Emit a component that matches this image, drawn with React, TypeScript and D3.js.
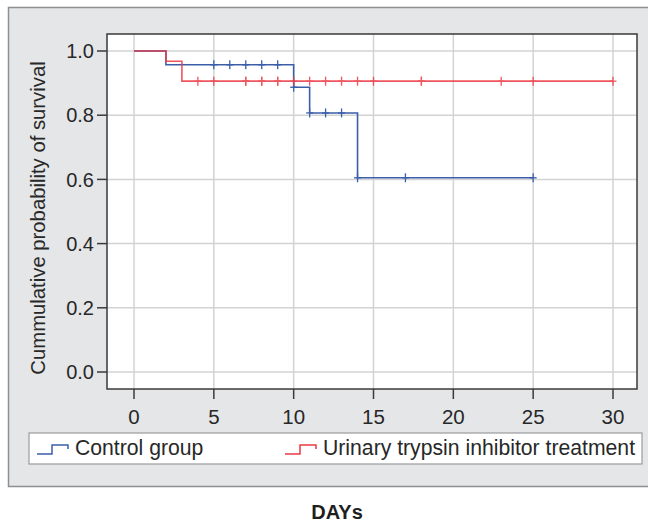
import React from "react";
import * as d3 from "d3";

// Kaplan-Meier steps: [day, survival]
const controlSteps: [number, number][] = [[0, 1], [2, 0.957], [10, 0.887], [11, 0.807], [14, 0.605], [25, 0.605]];
const utiSteps: [number, number][] = [[0, 1], [2, 0.968], [3, 0.906], [30, 0.906]];
// censored observations (days)
const controlCensored = [5, 6, 7, 8, 9, 10, 11, 12, 13, 14, 17, 25];
const utiCensored = [4, 5, 7, 7, 8, 8, 9, 9, 10, 11, 12, 13, 14, 15, 18, 18, 23, 25, 30];
const xTicks = [0, 5, 10, 15, 20, 25, 30];
const yTicks = [0, 0.2, 0.4, 0.6, 0.8, 1.0];
const groups = ["Control group", "Urinary trypsin inhibitor treatment"];

const BLUE = "#3b5ea9";
const RED = "#ec3a44";
const FONT = "Liberation Sans, Arial, sans-serif";
const INK = "#282828";

function survivalAt(steps: [number, number][], t: number) {
  let s = steps[0][1];
  for (const p of steps) if (p[0] <= t) s = p[1];
  return s;
}

export default function App() {
  const plot = { left: 107, right: 637, top: 34, bottom: 389 };
  const x = d3.scaleLinear().domain([0, 30]).range([134, 613]);
  const y = d3.scaleLinear().domain([0, 1]).range([372, 51]);

  const line = d3.line<[number, number]>()
    .x(d => x(d[0]))
    .y(d => y(d[1]))
    .curve(d3.curveStepAfter);

  const series = [
    { steps: controlSteps, censored: controlCensored, color: BLUE, opacity: 1 },
    { steps: utiSteps, censored: utiCensored, color: RED, opacity: 0.85 },
  ];

  return (
    <svg width={648} height={524} style={{ position: "absolute", left: 0, top: 0, fontFamily: FONT }}>
      <rect x={0} y={0} width={648} height={524} fill="#ffffff" />
      {/* grey panel */}
      <rect x={8.5} y={7.5} width={650} height={479} fill="#e5e6e8" stroke="#8e8f91" strokeWidth={1.5} />
      {/* plot area */}
      <rect x={plot.left} y={plot.top} width={plot.right - plot.left} height={plot.bottom - plot.top} fill="#ffffff" />
      {xTicks.map(t => (
        <line key={"gx" + t} x1={x(t)} x2={x(t)} y1={plot.top} y2={plot.bottom} stroke="#d2d3d5" strokeWidth={1.5} />
      ))}
      {yTicks.map(t => (
        <line key={"gy" + t} x1={plot.left} x2={plot.right} y1={y(t)} y2={y(t)} stroke="#d2d3d5" strokeWidth={1.5} />
      ))}

      {series.map((s, i) => (
        <g key={"s" + i} opacity={s.opacity}>
          <path d={line(s.steps) || ""} fill="none" stroke={s.color} strokeWidth={1.6} />
          {s.censored.map((c, j) => {
            const cx = x(c);
            const cy = y(survivalAt(s.steps, c));
            return (
              <g key={j} stroke={s.color} strokeWidth={1.3}>
                <line x1={cx - 3.5} x2={cx + 3.5} y1={cy} y2={cy} />
                <line x1={cx} x2={cx} y1={cy - 4.5} y2={cy + 4.5} />
              </g>
            );
          })}
        </g>
      ))}

      <rect x={plot.left} y={plot.top} width={plot.right - plot.left} height={plot.bottom - plot.top}
        fill="none" stroke="#3a3a3a" strokeWidth={1.5} />

      {/* y axis */}
      {yTicks.map(t => (
        <g key={"ty" + t}>
          <line x1={plot.left - 10} x2={plot.left} y1={y(t)} y2={y(t)} stroke="#3a3a3a" strokeWidth={1.5} />
          <text x={94} y={y(t)} dy="0.36em" textAnchor="end" fontSize={20} fill={INK}>{t.toFixed(1)}</text>
        </g>
      ))}
      {/* x axis */}
      {xTicks.map(t => (
        <g key={"tx" + t}>
          <line x1={x(t)} x2={x(t)} y1={plot.bottom} y2={plot.bottom + 10} stroke="#3a3a3a" strokeWidth={1.5} />
          <text x={x(t)} y={424} textAnchor="middle" fontSize={20.5} fill={INK}>{t}</text>
        </g>
      ))}

      <text transform="translate(45,218) rotate(-90)" textAnchor="middle" fontSize={20.3} fill={INK}>
        Cummulative probability of survival
      </text>

      {/* legend */}
      <rect x={29} y={433} width={613} height={31} fill="#ffffff" stroke="#9a9b9d" strokeWidth={1.2} />
      {[{ x0: 37, color: BLUE }, { x0: 285, color: RED }].map((l, i) => (
        <g key={"lg" + i}>
          <path d={`M${l.x0},454 H${l.x0 + 15} V445 H${l.x0 + 31} V449`} fill="none" stroke={l.color} strokeWidth={1.5} />
          <text x={l.x0 + 38} y={455} fontSize={21.2} fill={INK}>{groups[i]}</text>
        </g>
      ))}

      <text x={337} y={519} textAnchor="middle" fontSize={20} fontWeight="bold" fill="#1e1e1e">DAYs</text>
    </svg>
  );
}
